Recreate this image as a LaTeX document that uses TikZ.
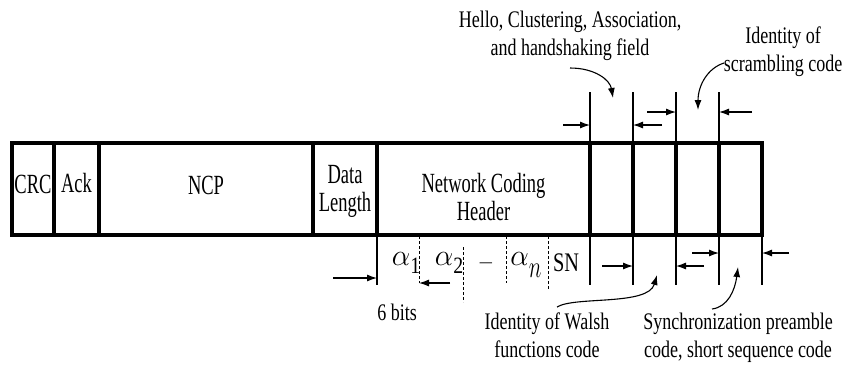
\documentclass[tikz,border=0pt]{standalone}
\usepackage{fontspec}
\setmainfont{Liberation Serif}
\usepackage{graphicx}
\usetikzlibrary{arrows.meta}
\newcommand\tlines[1]{\scalebox{1}[1.32]{\begin{tabular}{@{}c@{}}#1\end{tabular}}}
\newcommand\clines[1]{\scalebox{1}[1.5]{\begin{tabular}{@{}c@{}}#1\end{tabular}}}
\newcommand\bigalpha{\scalebox{1.7}[1.75]{$\alpha$}}
\begin{document}
\begin{tikzpicture}[x=1pt,y=-1pt,
  cell/.style={draw, line width=3.4pt, minimum height=92pt, inner sep=0pt, outer sep=0pt},
  ext/.style={line width=1.1pt},
  dsh/.style={line width=0.8pt, dash pattern=on 3pt off 2pt},
  arr/.style={-{Latex[length=10pt,width=7pt]}, line width=1.1pt},
  lbl/.style={inner sep=0pt, font=\fontsize{18}{21}\selectfont},
  ctx/.style={inner sep=0pt, font=\fontsize{18.5}{18.5}\selectfont},
  sym/.style={inner sep=0pt, anchor=base, font=\fontsize{18}{20}\selectfont}]
\useasboundingbox (0,0) rectangle (845,368);
% cells
\node[cell, minimum width=42pt]  (crc) at (33,189) {};
\node[cell, minimum width=45pt]  (ack) at (76.5,189) {};
\node[cell, minimum width=214pt] (ncp) at (206,189) {};
\node[cell, minimum width=64pt]  (dl)  at (345,189) {};
\node[cell, minimum width=213pt] (nch) at (483.5,189) {};
\node[cell, minimum width=43pt]  (f1)  at (611.5,189) {};
\node[cell, minimum width=43pt]  (f2)  at (654.5,189) {};
\node[cell, minimum width=43pt]  (f3)  at (697.5,189) {};
\node[cell, minimum width=43pt]  (f4)  at (740.5,189) {};
% cell texts
\node[ctx] (tcrc) at (33,188) {\clines{CRC}};
\node[ctx] (tack) at (76.5,187) {\clines{Ack}};
\node[ctx] (tncp) at (206,189) {\clines{NCP}};
\node[ctx] (tdl)  at (345,192) {\clines{Data\\Length}};
\node[ctx] (tnch) at (483.5,201) {\clines{Network Coding\\Header}};
% extension lines above
\coordinate (u1) at (590,92);
\coordinate (u2) at (633,92);
\coordinate (u3) at (676,92);
\coordinate (u4) at (719,92);
\draw[ext] (u1) -- (f1.north west);
\draw[ext] (u2) -- (f2.north west);
\draw[ext] (u3) -- (f3.north west);
\draw[ext] (u4) -- (f4.north west);
% extension lines below
\coordinate (d0) at (377,285);
\coordinate (d1) at (590,285);
\coordinate (d2) at (633,285);
\coordinate (d3) at (676,285);
\coordinate (d4) at (719,285);
\coordinate (d5) at (762,285);
\draw[ext] (nch.south west) -- (d0);
\draw[ext] (f1.south west) -- (d1);
\draw[ext] (f2.south west) -- (d2);
\draw[ext] (f3.south west) -- (d3);
\draw[ext] (f4.south west) -- (d4);
\draw[ext] (f4.south east) -- (d5);
% dashed separators
\coordinate (s1a) at (419,236); \coordinate (s1b) at (419,283);
\coordinate (s2a) at (463,247); \coordinate (s2b) at (463,302);
\coordinate (s3a) at (506,236); \coordinate (s3b) at (506,283);
\coordinate (s4a) at (548,236); \coordinate (s4b) at (548,290);
\draw[dsh] (s1a) -- (s1b);
\draw[dsh] (s2a) -- (s2b);
\draw[dsh] (s3a) -- (s3b);
\draw[dsh] (s4a) -- (s4b);
% symbols
\node[sym] (a1) at (406,265) {\bigalpha\raisebox{-8pt}{\scalebox{1.1}[1.3]{1}}};
\node[sym] (a2) at (449,265) {\bigalpha\raisebox{-8pt}{\scalebox{1.1}[1.3]{2}}};
\node[sym] (dd) at (486,267.5) {\scalebox{1.35}[1]{–}};
\node[sym] (an) at (526,265) {\bigalpha\raisebox{-12pt}{\scalebox{1.25}[1.8]{$n$}}};
\node[ctx] (sn) at (566,263) {\scalebox{1.1}[1.45]{SN}};
\node[lbl] (six) at (397,315) {\tlines{6 bits}};
% straight arrows
\coordinate (p1) at (333,278); \coordinate (q1) at (377,278);
\coordinate (p2) at (450,283); \coordinate (q2) at (419,283);
\draw[arr] (p1) -- (q1);
\draw[arr] (p2) -- (q2);
\coordinate (ta1) at (563,125); \coordinate (tb1) at (590,125);
\coordinate (ta2) at (662,125); \coordinate (tb2) at (633,125);
\coordinate (ta3) at (647,112); \coordinate (tb3) at (676,112);
\coordinate (ta4) at (752,112); \coordinate (tb4) at (719,112);
\draw[arr] (ta1) -- (tb1);
\draw[arr] (ta2) -- (tb2);
\draw[arr] (ta3) -- (tb3);
\draw[arr] (ta4) -- (tb4);
\coordinate (ba1) at (602,266); \coordinate (bb1) at (633,266);
\coordinate (ba2) at (704,266); \coordinate (bb2) at (676,266);
\coordinate (ba3) at (692,253); \coordinate (bb3) at (719,253);
\coordinate (ba4) at (789,253); \coordinate (bb4) at (762,253);
\draw[arr] (ba1) -- (bb1);
\draw[arr] (ba2) -- (bb2);
\draw[arr] (ba3) -- (bb3);
\draw[arr] (ba4) -- (bb4);
% labels
\node[lbl] (hello) at (570,36) {\tlines{Hello, Clustering, Association,\\and handshaking field}};
\node[lbl] (scr) at (783,52) {\tlines{Identity of\\scrambling code}};
\node[lbl] (walsh) at (547,338) {\tlines{Identity of Walsh\\functions code}};
\node[lbl] (sync) at (738,338) {\tlines{Synchronization preamble\\code, short sequence code}};
% curved arrows
\coordinate (c1s) at (570,68); \coordinate (c1e) at (613,98);
\draw[arr] (c1s) .. controls (595,68) and (610,80) .. (c1e);
\coordinate (c2s) at (724,63); \coordinate (c2e) at (698,110);
\draw[arr] (c2s) .. controls (708,68) and (698,85) .. (c2e);
\coordinate (c3s) at (557,307); \coordinate (c3e) at (657,275);
\draw[arr] (c3s) .. controls (575,296) and (648,306) .. (c3e);
\coordinate (c4s) at (712,309); \coordinate (c4e) at (738,267);
\draw[arr] (c4s) .. controls (728,307) and (735,290) .. (c4e);
\end{tikzpicture}
\end{document}
